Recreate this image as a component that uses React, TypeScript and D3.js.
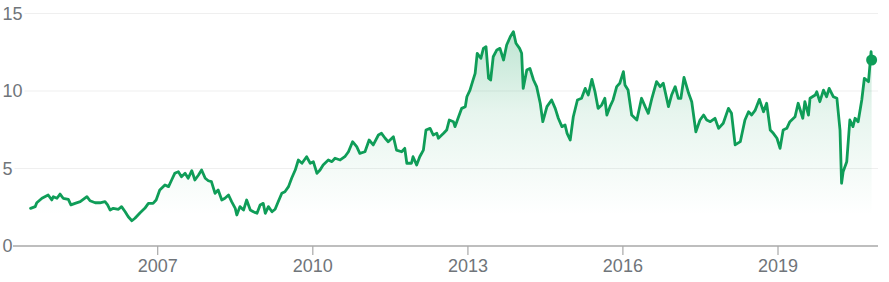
import React from "react";
import * as d3 from "d3";

const years: number[] = [
  2004.54, 2004.63, 2004.66, 2004.76, 2004.88, 2004.95, 2004.98, 2005.05, 2005.11, 2005.17,
  2005.27, 2005.32, 2005.40, 2005.50, 2005.63, 2005.69, 2005.79, 2005.88, 2005.98, 2006.03,
  2006.08, 2006.14, 2006.24, 2006.30, 2006.37, 2006.43, 2006.50, 2006.56, 2006.66, 2006.75,
  2006.82, 2006.91, 2006.97, 2007.04, 2007.14, 2007.21, 2007.27, 2007.33, 2007.40, 2007.46,
  2007.53, 2007.59, 2007.66, 2007.72, 2007.79, 2007.85, 2007.92, 2007.98, 2008.04, 2008.11,
  2008.17, 2008.24, 2008.30, 2008.37, 2008.43, 2008.50, 2008.53, 2008.59, 2008.66, 2008.72,
  2008.79, 2008.85, 2008.92, 2008.98, 2009.04, 2009.08, 2009.14, 2009.21, 2009.27, 2009.33,
  2009.40, 2009.46, 2009.53, 2009.59, 2009.66, 2009.72, 2009.79, 2009.88, 2009.95, 2010.01,
  2010.08, 2010.14, 2010.20, 2010.30, 2010.37, 2010.43, 2010.53, 2010.62, 2010.69, 2010.77,
  2010.85, 2010.91, 2011.01, 2011.09, 2011.17, 2011.27, 2011.33, 2011.40, 2011.46, 2011.56,
  2011.62, 2011.72, 2011.78, 2011.82, 2011.91, 2011.94, 2012.01, 2012.07, 2012.14, 2012.19,
  2012.27, 2012.33, 2012.40, 2012.43, 2012.53, 2012.59, 2012.64, 2012.72, 2012.75, 2012.82,
  2012.88, 2012.95, 2012.98, 2013.04, 2013.09, 2013.14, 2013.18, 2013.25, 2013.30, 2013.35,
  2013.40, 2013.44, 2013.49, 2013.56, 2013.62, 2013.69, 2013.75, 2013.82, 2013.88, 2013.93,
  2014.00, 2014.04, 2014.07, 2014.14, 2014.20, 2014.27, 2014.33, 2014.40, 2014.45, 2014.53,
  2014.62, 2014.69, 2014.75, 2014.82, 2014.88, 2014.92, 2014.98, 2015.04, 2015.12, 2015.20,
  2015.27, 2015.33, 2015.40, 2015.46, 2015.52, 2015.59, 2015.65, 2015.69, 2015.75, 2015.81,
  2015.88, 2015.94, 2016.01, 2016.04, 2016.10, 2016.17, 2016.27, 2016.36, 2016.43, 2016.49,
  2016.56, 2016.65, 2016.72, 2016.78, 2016.88, 2016.94, 2017.01, 2017.07, 2017.12, 2017.18,
  2017.27, 2017.33, 2017.41, 2017.49, 2017.56, 2017.62, 2017.69, 2017.78, 2017.85, 2017.94,
  2018.04, 2018.10, 2018.17, 2018.27, 2018.36, 2018.43, 2018.49, 2018.56, 2018.64, 2018.72,
  2018.78, 2018.85, 2018.91, 2018.98, 2019.04, 2019.10, 2019.17, 2019.23, 2019.33, 2019.39,
  2019.48, 2019.52, 2019.59, 2019.62, 2019.72, 2019.75, 2019.81, 2019.88, 2019.94, 2019.99,
  2020.07, 2020.14, 2020.20, 2020.23, 2020.26, 2020.33, 2020.39, 2020.45, 2020.49, 2020.55,
  2020.62, 2020.67, 2020.75, 2020.80, 2020.81,
];

const prices: number[] = [
  2.43, 2.54, 2.79, 3.08, 3.29, 2.97, 3.18, 3.08, 3.35, 3.08,
  3.01, 2.65, 2.75, 2.86, 3.18, 2.92, 2.79, 2.79, 2.86, 2.65,
  2.32, 2.43, 2.37, 2.54, 2.21, 1.89, 1.63, 1.79, 2.15, 2.43,
  2.75, 2.75, 2.97, 3.61, 3.94, 3.83, 4.26, 4.69, 4.79, 4.47,
  4.69, 4.37, 4.86, 4.26, 4.58, 4.90, 4.37, 4.21, 4.15, 3.40,
  3.61, 2.97, 3.08, 3.29, 2.86, 2.43, 2.00, 2.54, 2.32, 2.97,
  2.32, 2.21, 2.11, 2.65, 2.75, 2.11, 2.54, 2.21, 2.37, 2.86,
  3.40, 3.50, 3.83, 4.37, 4.90, 5.55, 5.34, 5.76, 5.34, 5.44,
  4.69, 4.90, 5.23, 5.55, 5.44, 5.66, 5.55, 5.76, 6.08, 6.73,
  6.41, 5.98, 6.08, 6.84, 6.52, 7.16, 7.27, 6.95, 6.73, 7.05,
  6.19, 6.08, 6.30, 5.34, 5.34, 5.76, 5.23, 5.76, 6.19, 7.48,
  7.59, 7.16, 7.27, 6.95, 7.27, 7.48, 8.13, 8.02, 7.70, 8.34,
  8.88, 8.99, 9.63, 10.06, 10.60, 11.14, 12.43, 12.11, 12.75, 12.86,
  10.82, 10.71, 12.21, 12.65, 12.75, 12.00, 12.97, 13.50, 13.83, 13.08,
  12.75, 12.43, 10.17, 11.35, 11.46, 10.71, 10.28, 9.21, 8.02, 8.99,
  9.42, 8.88, 8.24, 7.70, 7.81, 7.27, 6.84, 8.34, 9.42, 9.53,
  10.17, 9.74, 10.75, 9.95, 8.88, 9.10, 9.53, 8.45, 8.99, 9.42,
  10.28, 10.50, 11.25, 10.39, 10.06, 8.45, 8.13, 9.53, 8.99, 8.56,
  9.53, 10.60, 10.28, 10.50, 8.99, 9.74, 10.28, 9.53, 9.53, 10.88,
  9.85, 9.31, 7.37, 8.13, 8.45, 8.13, 8.02, 8.24, 7.59, 7.92,
  8.88, 8.56, 6.52, 6.73, 8.13, 8.66, 8.45, 8.77, 9.46, 8.66,
  9.21, 7.48, 7.27, 6.95, 6.30, 7.48, 7.59, 8.02, 8.34, 9.21,
  8.24, 9.31, 8.45, 9.53, 9.74, 9.95, 9.31, 10.06, 9.63, 10.17,
  9.63, 9.53, 7.48, 4.05, 4.79, 5.44, 8.13, 7.70, 8.24, 8.02,
  9.42, 10.82, 10.60, 12.54, 12.00,
];

const yTicks: number[] = [0, 5, 10, 15];
const xTickYears: number[] = [2007, 2010, 2013, 2016, 2019];

function yearToDate(y: number): Date {
  const base = Math.floor(y);
  const start = new Date(base, 0, 1).getTime();
  const end = new Date(base + 1, 0, 1).getTime();
  return new Date(start + (y - base) * (end - start));
}

const W = 889;
const H = 282;
const GREEN = "#0f9d58";
const LABEL = "#70757a";
const FONT = "Arial, 'Liberation Sans', sans-serif";

export default function App() {
  const data = years.map((y, i) => ({ date: yearToDate(y), value: prices[i] }));

  const x = d3
    .scaleTime()
    .domain([new Date(2007, 0, 1), new Date(2019, 0, 1)])
    .range([157.7, 778]);
  const y = d3.scaleLinear().domain([0, 15]).range([246, 13.5]);

  const line = d3
    .line<{ date: Date; value: number }>()
    .x((d) => x(d.date))
    .y((d) => y(d.value));
  const area = d3
    .area<{ date: Date; value: number }>()
    .x((d) => x(d.date))
    .y0(y(0))
    .y1((d) => y(d.value));

  const last = data[data.length - 1];
  const right = 878;

  return (
    <svg
      width={W}
      height={H}
      style={{ position: "absolute", left: 0, top: 0, background: "#fff" }}
      fontFamily={FONT}
    >
      <defs>
        <linearGradient id="fillGrad" gradientUnits="userSpaceOnUse" x1="0" y1="31" x2="0" y2="215">
          <stop offset="0" stopColor={GREEN} stopOpacity={0.27} />
          <stop offset="0.45" stopColor={GREEN} stopOpacity={0.1} />
          <stop offset="1" stopColor={GREEN} stopOpacity={0} />
        </linearGradient>
      </defs>

      {yTicks.map((t) => {
        const label = String(t);
        const x1 = 2.5 + label.length * 10 + 2;
        return (
          <g key={t}>
            {t !== 0 && (
              <line x1={x1} x2={right} y1={y(t)} y2={y(t)} stroke="#efefef" strokeWidth={1.2} />
            )}
            <text x={2.5} y={y(t) + 6.4} fontSize={18} fill={LABEL}>
              {label}
            </text>
          </g>
        );
      })}

      <path d={area(data) || ""} fill="url(#fillGrad)" />

      <line x1={13} x2={right} y1={y(0)} y2={y(0)} stroke="#a8a8a8" strokeWidth={1.5} />
      {xTickYears.map((yr) => {
        const xx = x(new Date(yr, 0, 1));
        return (
          <g key={yr}>
            <line x1={xx} x2={xx} y1={y(0)} y2={y(0) + 9} stroke="#a8a8a8" strokeWidth={1.2} />
            <text x={xx} y={271.5} fontSize={18} fill={LABEL} textAnchor="middle">
              {yr}
            </text>
          </g>
        );
      })}

      <path
        d={line(data) || ""}
        fill="none"
        stroke={GREEN}
        strokeWidth={2.8}
        strokeLinejoin="round"
        strokeLinecap="round"
      />
      <circle cx={x(last.date)} cy={y(last.value)} r={5.5} fill={GREEN} />
    </svg>
  );
}
